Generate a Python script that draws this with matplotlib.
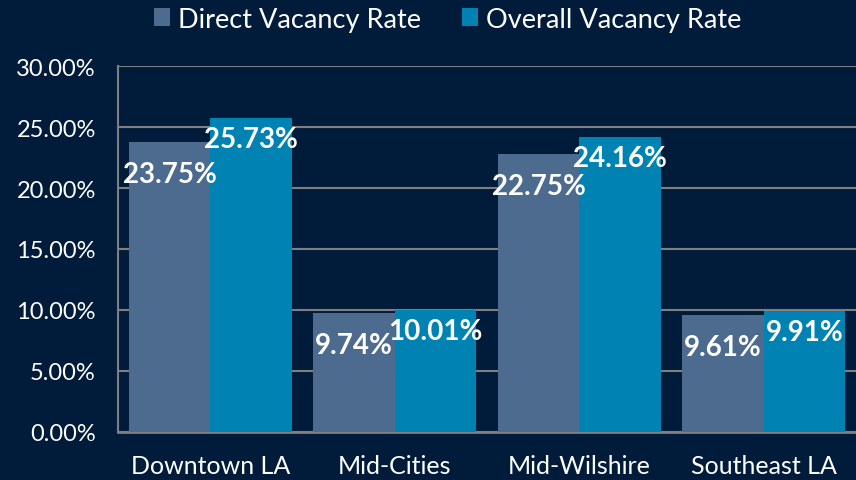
import matplotlib.pyplot as plt
import numpy as np
from matplotlib.ticker import FuncFormatter

# data
categories = ['Downtown LA', 'Mid-Cities', 'Mid-Wilshire', 'Southeast LA']
direct_rate = [23.75, 9.74, 22.75, 9.61]
overall_rate = [25.73, 10.01, 24.16, 9.91]
series_names = ['Direct Vacancy Rate', 'Overall Vacancy Rate']

bg = '#001C3A'
c_direct = '#4D6A8F'
c_overall = '#0083B3'
grid_c = '#7F7F7F'

plt.rcParams['font.family'] = ['Lato', 'DejaVu Sans']

fig = plt.figure(figsize=(8.56, 4.81), dpi=100, facecolor=bg)
ax = fig.add_axes([0.1379, 0.0998, 0.8621, 0.7609], facecolor=bg)

x = np.arange(len(categories))
w = 0.442
b1 = ax.bar(x - w / 2, direct_rate, w, color=c_direct, label=series_names[0], zorder=3)
b2 = ax.bar(x + w / 2, overall_rate, w, color=c_overall, label=series_names[1], zorder=3)

# value labels just inside the bar tops
for bars, vals, off in [(b1, direct_rate, -32), (b2, overall_rate, -21)]:
    for rect, v in zip(bars, vals):
        ax.annotate(f"{v:.2f}%", (rect.get_x() + rect.get_width() / 2, rect.get_height()),
                    xytext=(0, off), textcoords='offset pixels',
                    ha='center', va='center', color='white', fontsize=20,
                    fontweight='bold', zorder=5)

ax.set_xlim(-0.5, len(categories) - 0.5)
ax.set_ylim(0, 30)
ax.set_yticks(np.arange(0, 31, 5))
ax.yaxis.set_major_formatter(FuncFormatter(lambda v, p: f"{v:.2f}%"))
ax.set_xticks(x)
ax.set_xticklabels(categories)

ax.grid(axis='y', color=grid_c, linewidth=1.5, zorder=0)
ax.tick_params(axis='x', length=0, pad=16, colors='white', labelsize=18)
ax.tick_params(axis='y', length=0, pad=16, colors='white', labelsize=17)

for s in ['top', 'right']:
    ax.spines[s].set_visible(False)
ax.spines['left'].set_color(grid_c)
ax.spines['left'].set_linewidth(1.5)
ax.spines['bottom'].set_color(grid_c)
ax.spines['bottom'].set_linewidth(2)

leg = fig.legend(loc='upper center', bbox_to_anchor=(0.523, 1.035), ncol=2,
                 frameon=False, fontsize=19.5, handlelength=0.6, handleheight=0.6,
                 handletextpad=0.3, columnspacing=1.5)
for t in leg.get_texts():
    t.set_color('white')

fig.savefig('out.png', dpi=100, facecolor=bg)
